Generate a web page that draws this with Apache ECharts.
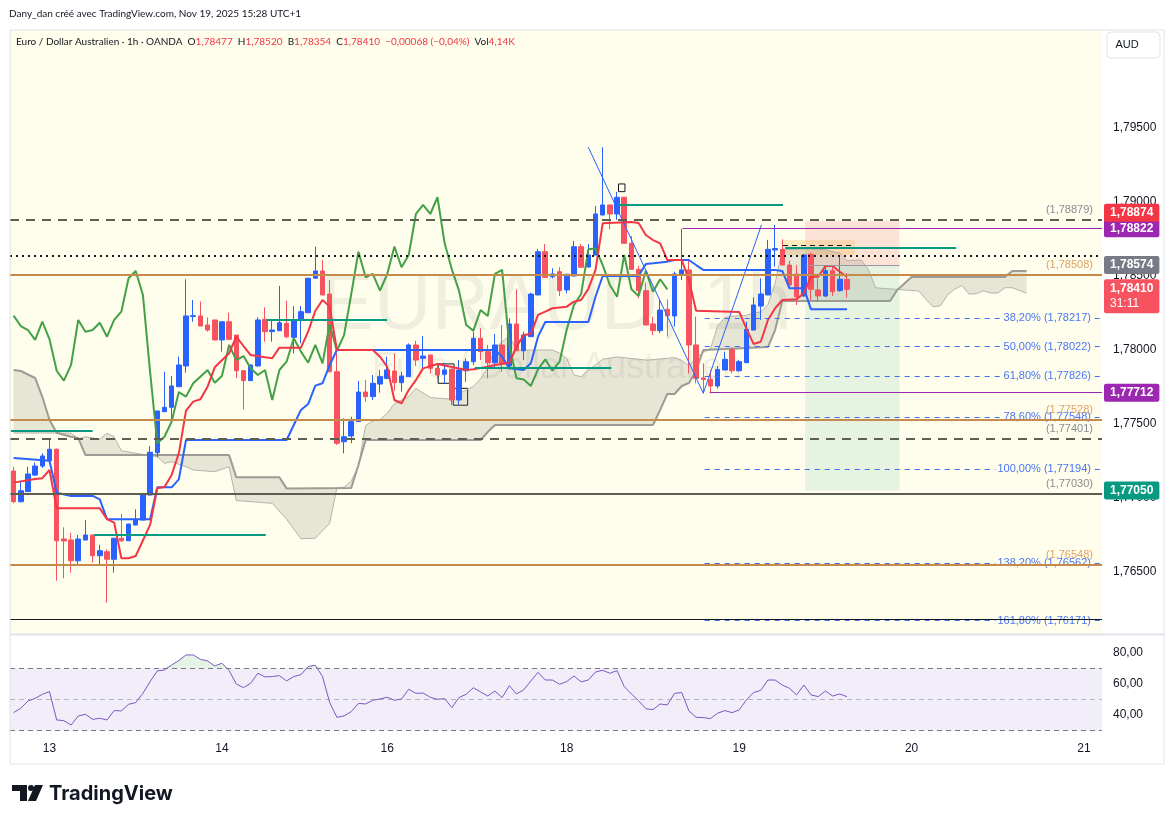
<!DOCTYPE html>
<html><head><meta charset="utf-8">
<script src="https://cdn.jsdelivr.net/npm/echarts@6/dist/echarts.min.js"></script>
<style>html,body{margin:0;padding:0;background:#fff;}#c{width:1175px;height:824px;}</style>
</head><body><div id="c"></div>
<script>
// ---------- DATA ----------
const opens = [
1.77182,1.76975,1.77043,1.77155,1.77216,1.77252,1.77329,1.76723,1.76716,1.76576,
1.76716,1.76750,1.76610,1.76637,1.76586,1.76728,1.76711,1.76817,1.76851,1.77020,
1.77306,1.77583,1.77613,1.77752,1.77892,1.78226,1.78230,1.78169,1.78203,1.78068,
1.78191,1.78101,1.77860,1.77793,1.77892,1.78207,1.78124,1.78130,1.78180,1.78086,
1.78203,1.78252,1.78485,1.78534,1.78378,1.77853,1.77380,1.77419,1.77516,1.77716,
1.77685,1.77770,1.77808,1.77858,1.77779,1.77820,1.78034,1.77944,1.77966,1.77876,
1.77836,1.77870,1.77662,1.77860,1.77921,1.78079,1.77989,1.77914,1.78034,1.77892,
1.78176,1.77995,1.78090,1.78372,1.78664,1.78495,1.78529,1.78406,1.78500,1.78698,
1.78561,1.78642,1.78912,1.78980,1.78919,1.79032,1.78721,1.78545,1.78401,1.78176,
1.78131,1.78275,1.78230,1.78507,1.78541,1.78034,1.77811,1.77802,1.77757,1.77865,
1.78005,1.77860,1.77914,1.78135,1.78297,1.78372,1.78676,1.78680,1.78574,1.78514,
1.78365,1.78647,1.78406,1.78365,1.78536,1.78401,1.78477];
const closes = [
1.76975,1.77049,1.77162,1.77216,1.77284,1.77329,1.76711,1.76710,1.76576,1.76723,
1.76750,1.76610,1.76644,1.76586,1.76728,1.76711,1.76824,1.76851,1.77027,1.77309,
1.77588,1.77613,1.77757,1.77899,1.78230,1.78232,1.78162,1.78135,1.78068,1.78191,
1.78072,1.77860,1.77793,1.77899,1.78203,1.78124,1.78135,1.78184,1.78090,1.78203,
1.78259,1.78485,1.78534,1.78372,1.77853,1.77370,1.77414,1.77516,1.77716,1.77685,
1.77775,1.77820,1.77865,1.77779,1.77824,1.78034,1.77932,1.77959,1.77876,1.77831,
1.77865,1.77662,1.77865,1.77921,1.78079,1.77989,1.77914,1.78034,1.77910,1.78176,
1.77995,1.78101,1.78378,1.78664,1.78491,1.78514,1.78401,1.78512,1.78698,1.78559,
1.78642,1.78919,1.78980,1.78919,1.79032,1.78721,1.78545,1.78401,1.78169,1.78131,
1.78270,1.78230,1.78514,1.78541,1.78034,1.77809,1.77801,1.77757,1.77869,1.77937,
1.77860,1.77921,1.78140,1.78304,1.78378,1.78680,1.78686,1.78574,1.78439,1.78360,
1.78642,1.78410,1.78365,1.78536,1.78394,1.78478,1.78410];
const lows = [
1.76964,1.76970,1.77040,1.77149,1.77203,1.77250,1.76441,1.76457,1.76496,1.76541,
1.76716,1.76563,1.76554,1.76292,1.76496,1.76703,1.76709,1.76815,1.76849,1.77018,
1.77275,1.77581,1.77527,1.77750,1.77847,1.78191,1.78160,1.78124,1.78066,1.77989,
1.78070,1.77809,1.77599,1.77791,1.77890,1.78056,1.78056,1.78128,1.78079,1.77977,
1.78045,1.78250,1.78483,1.78370,1.77851,1.77358,1.77302,1.77370,1.77514,1.77651,
1.77662,1.77712,1.77802,1.77725,1.77718,1.77818,1.77892,1.77876,1.77842,1.77802,
1.77775,1.77628,1.77628,1.77786,1.77899,1.77932,1.77809,1.77883,1.77853,1.77865,
1.77993,1.77932,1.78088,1.78370,1.78489,1.78484,1.78365,1.78383,1.78498,1.78557,
1.78557,1.78640,1.78910,1.78816,1.78879,1.78719,1.78543,1.78349,1.78167,1.78101,
1.78113,1.78090,1.78158,1.78473,1.77842,1.77775,1.77707,1.77707,1.77741,1.77863,
1.77842,1.77853,1.77912,1.78133,1.78203,1.78370,1.78563,1.78572,1.78428,1.78304,
1.78360,1.78338,1.78327,1.78356,1.78365,1.78394,1.78354];
const highs = [
1.77211,1.77117,1.77211,1.77239,1.77302,1.77403,1.77335,1.76802,1.76765,1.76750,
1.76851,1.76752,1.76683,1.76653,1.76730,1.76892,1.76826,1.76924,1.77029,1.77351,
1.77590,1.77853,1.77824,1.77955,1.78478,1.78338,1.78327,1.78221,1.78205,1.78193,
1.78252,1.78103,1.77862,1.77901,1.78221,1.78288,1.78203,1.78433,1.78333,1.78297,
1.78297,1.78487,1.78698,1.78608,1.78473,1.77980,1.77538,1.77549,1.77791,1.77797,
1.77831,1.77865,1.77955,1.77978,1.77853,1.78045,1.78063,1.78095,1.77968,1.77910,
1.77910,1.77876,1.77932,1.77943,1.78124,1.78147,1.78034,1.78108,1.78169,1.78214,
1.78410,1.78124,1.78387,1.78682,1.78716,1.78552,1.78559,1.78514,1.78737,1.78716,
1.78716,1.78973,1.79370,1.78982,1.79068,1.79034,1.78770,1.78568,1.78455,1.78225,
1.78338,1.78343,1.78529,1.78818,1.78613,1.78225,1.77910,1.77865,1.77892,1.77989,
1.78018,1.77932,1.78191,1.78356,1.78484,1.78743,1.78845,1.78748,1.78603,1.78574,
1.78649,1.78657,1.78484,1.78563,1.78563,1.78642,1.78520];
const rsi = [
41.5,44.3,48.9,50.6,53.2,54.9,36.8,36.4,33.6,39.4,
40.4,37.2,37.9,36.8,42.8,42.6,46.8,47.9,53.8,61.3,
68.1,68.7,71.9,74.7,78.3,78.3,75.5,74.5,71.3,73.0,
68.3,59.8,57.4,60.2,66.6,64.3,64.5,65.1,61.7,64.5,
65.7,70.9,71.7,64.5,47.9,38.5,39.4,42.1,47.4,47.0,
49.4,50.2,51.3,49.4,50.2,56.4,53.8,54.0,51.3,50.0,
50.4,44.7,51.1,53.2,57.4,54.7,52.1,55.3,51.1,58.7,
53.4,56.0,61.7,67.2,62.3,62.3,59.6,61.3,64.9,61.1,
62.3,67.4,68.5,66.6,68.3,58.1,53.4,49.1,44.0,43.4,
47.0,46.4,53.8,54.3,42.6,38.5,38.3,37.7,41.1,42.8,
41.5,43.2,49.6,54.3,55.7,62.3,62.3,59.1,57.0,52.8,
59.1,52.8,51.7,55.3,52.1,53.4,51.7];
const tenkan = [[0,1.77104],[3,1.77129],[4,1.77134],[5,1.77189],[6,1.76930],[12,1.76930],[13,1.76857],[14,1.76834],[15,1.76593],[16,1.76593],[17,1.76608],[19,1.76818],[20,1.77066],[21,1.77075],[22,1.77156],[23,1.77302],[24,1.77590],[25,1.77651],[26,1.77667],[27,1.77752],[28,1.77883],[30,1.77978],[31,1.78090],[32,1.78027],[33,1.77966],[35,1.77951],[36,1.77944],[37,1.78016],[40,1.78016],[41,1.78124],[42,1.78265],[43,1.78338],[44,1.78293],[45,1.78000],[50,1.78000],[51,1.77955],[52,1.77887],[53,1.77662],[54,1.77640],[55,1.77730],[56,1.77797],[57,1.77876],[59,1.77905],[63,1.77865],[64,1.77870],[66,1.77887],[67,1.77899],[69,1.77914],[70,1.78022],[71,1.78101],[72,1.78108],[73,1.78237],[74,1.78259],[75,1.78282],[77,1.78293],[78,1.78327],[79,1.78338],[80,1.78413],[81,1.78541],[82,1.78856],[86,1.78865],[87,1.78858],[88,1.78777],[89,1.78743],[90,1.78721],[91,1.78608],[93,1.78608],[94,1.78473],[95,1.78265],[101,1.78257],[102,1.78146],[103,1.78041],[104,1.78056],[105,1.78203],[106,1.78282],[107,1.78338],[109,1.78343],[110,1.78383],[111,1.78495],[112,1.78495],[113,1.78568],[114,1.78568],[115,1.78529],[116,1.78495]];
const kijun = [[0,1.77270],[5,1.77252],[6,1.77036],[8,1.77014],[11,1.77014],[12,1.76991],[13,1.76857],[19,1.76857],[20,1.77072],[22,1.77072],[23,1.77126],[24,1.77392],[38,1.77392],[39,1.77493],[40,1.77595],[41,1.77635],[42,1.77759],[43,1.77775],[44,1.77899],[45,1.78000],[67,1.78000],[68,1.77955],[69,1.77876],[71,1.77865],[72,1.77910],[73,1.78090],[74,1.78189],[80,1.78189],[81,1.78360],[82,1.78500],[87,1.78500],[88,1.78581],[89,1.78586],[91,1.78597],[92,1.78608],[94,1.78608],[95,1.78574],[96,1.78541],[106,1.78541],[107,1.78534],[108,1.78417],[110,1.78417],[111,1.78275],[116,1.78275]];
const spanA = [[0,1.77439],[8,1.77439],[9,1.77399],[10,1.77414],[12,1.77397],[13,1.77437],[14,1.77414],[15,1.77320],[17,1.77302],[20,1.77279],[21,1.77234],[22,1.77245],[24,1.77211],[25,1.77189],[28,1.77178],[30,1.77211],[31,1.76983],[36,1.76964],[38,1.76857],[40,1.76725],[42,1.76728],[44,1.76829],[45,1.77069],[46,1.77073],[47,1.77115],[48,1.77214],[49,1.77490],[50,1.77521],[51,1.77529],[52,1.77572],[53,1.77637],[54,1.77662],[55,1.77685],[56,1.77741],[57,1.77710],[58,1.77679],[60,1.77671],[61,1.77668],[62,1.77704],[64,1.77754],[65,1.77805],[66,1.77879],[67,1.78012],[68,1.78056],[69,1.78095],[70,1.78000],[75,1.78000],[76,1.77978],[77,1.77944],[78,1.77831],[79,1.77820],[80,1.77865],[81,1.77899],[82,1.77938],[84,1.77953],[88,1.77932],[89,1.77934],[91,1.77944],[92,1.77949],[93,1.77930],[94,1.77895],[95,1.77947],[96,1.77983],[97,1.78009],[98,1.78163],[99,1.78218],[100,1.78228],[102,1.78234],[103,1.78251],[104,1.78257],[105,1.78307],[106,1.78451],[107,1.78678],[111,1.78683],[112,1.78679],[113,1.78679],[114,1.78664],[115,1.78656],[116,1.78603],[118,1.78608],[119,1.78541],[120,1.78420],[126,1.78399],[127,1.78343],[128,1.78291],[129,1.78299],[130,1.78372],[131,1.78411],[132,1.78436],[133,1.78378],[134,1.78380],[135,1.78400],[136,1.78385],[137,1.78385],[138,1.78421],[139,1.78421],[140,1.78402],[141,1.78385]];
const spanB = [[0,1.77865],[1,1.77858],[3,1.77811],[4,1.77684],[5,1.77527],[6,1.77441],[8,1.77414],[9,1.77405],[10,1.77290],[30,1.77290],[31,1.77140],[37,1.77140],[38,1.77065],[47,1.77068],[48,1.77223],[49,1.77392],[65,1.77392],[66,1.77446],[67,1.77493],[89,1.77493],[90,1.77595],[91,1.77703],[92,1.77703],[93,1.77757],[94,1.77777],[95,1.77858],[96,1.78000],[105,1.78020],[106,1.78135],[107,1.78331],[122,1.78331],[123,1.78406],[125,1.78493],[138,1.78493],[139,1.78534],[141,1.78534]];
const dayIndex = [5,29,52,77,101,125,149];
const dayLabel = ['13','14','16','18','19','20','21'];
const priceTicks = [1.765,1.770,1.775,1.780,1.785,1.790,1.795];
const rsiTicks = [40,60,80];
const dashedLevels = [1.78879,1.77401];
const orangeLevels = [1.78508,1.77528,1.76548];
const darkLevels = [1.77030];
const blackLevels = [1.76180];
const dottedLevels = [1.78635];
const fibStart = 96.2;
const fibNames = ['38,20%','50,00%','61,80%','78,60%','100,00%','138,20%','161,80%'];
const fibValues = [1.78217,1.78022,1.77826,1.77548,1.77194,1.76562,1.76171];
const tealSegments = [[-0.4,11.0,1.77454],[11.2,35.1,1.76751],[35.2,52.0,1.78203],[64.2,83.2,1.77880],[84.2,107.1,1.78984],[107.4,131.2,1.78688]];
const purpleStarts = [93.1,96.9];
const purpleValues = [1.78822,1.77712];
const zigzag = [[80.0,1.79370],[96.0,1.77708],[104.1,1.78845]];
const posX = [110.2,123.3];
const posPrices = [1.78874,1.78574,1.77050]; // stop, entry, target
const orangeBox = [[107.1,1.78743],[117.1,1.78642]];
const orangeBoxMid = 1.78710;
const smallBoxes = [[[59.1,1.77906],[61.3,1.77775]],[[61.2,1.77741],[63.2,1.77627]],[[84.2,1.79122],[85.1,1.79070]]];

// ---------- CHART ----------
const N = 152;
const cats = Array.from({length:N},(_,i)=>String(i));
const FONT = 'Liberation Sans';
const BG = '#fffdeb';
const fmt = (v,d)=>v.toFixed(d).replace('.',',');
const candleData = opens.map((o,i)=>[o,closes[i],lows[i],highs[i]]);
const chikou = closes.slice(25).map((c,j)=>[j,c]);
const last = closes.length-1;
const chg = closes[last]-closes[last-1];
const sgn = chg<0?'−':'+';
const chgTxt = sgn+fmt(Math.abs(chg),5)+' ('+sgn+fmt(Math.abs(chg)/closes[last-1]*100,2)+'%)';
const NOLINE = {color:'rgba(0,0,0,0)',width:0};

const levelLabel = (txt,color)=>({show:true,position:'insideEndTop',formatter:txt,color:color,fontSize:11,fontFamily:FONT,distance:[9,4]});
const levelData = [];
dashedLevels.forEach(v=>levelData.push({yAxis:v,lineStyle:{color:'#5d5d52',width:2,type:[9,7]},label:levelLabel('('+fmt(v,5)+')','#8a8c94')}));
orangeLevels.forEach(v=>levelData.push({yAxis:v,lineStyle:{color:'#c68a4b',width:2,type:'solid'},label:levelLabel('('+fmt(v,5)+')','#dca36a')}));
darkLevels.forEach(v=>levelData.push({yAxis:v,lineStyle:{color:'#5d5d52',width:2,type:'solid'},label:levelLabel('('+fmt(v,5)+')','#8a8c94')}));
blackLevels.forEach(v=>levelData.push({yAxis:v,lineStyle:{color:'#131722',width:1,type:'solid'},label:{show:false}}));
dottedLevels.forEach(v=>levelData.push({yAxis:v,lineStyle:{color:'#131722',width:2,type:[2,4]},label:{show:false}}));
tealSegments.forEach(s=>levelData.push([{coord:[s[0],s[2]],lineStyle:{color:'#089981',width:2,type:'solid'},label:{show:false}},{coord:[s[1],s[2]]}]));
levelData.push([{coord:[posX[0],posPrices[1]],lineStyle:{color:'#9598a1',width:1,type:'solid'},label:{show:false}},{coord:[posX[1],posPrices[1]]}]);
levelData.push([{coord:[orangeBox[0][0],orangeBoxMid],lineStyle:{color:'#131722',width:1,type:[5,4]},label:{show:false}},{coord:[orangeBox[1][0],orangeBoxMid]}]);

const fibData = fibValues.map((v,k)=>[{coord:[fibStart,v],lineStyle:{color:'#3d6df5',width:1,type:[5,5]},
  label:{show:true,position:'insideEnd',formatter:fibNames[k]+' ('+fmt(v,5)+')',color:'#4a76f5',fontSize:11,fontFamily:FONT,distance:[9,0],backgroundColor:BG,padding:[0,2]}},{coord:[N-0.5,v]}]);

const boxLabel = (txt,bg,dy)=>({show:true,position:'end',distance:2,formatter:txt,color:'#fff',fontWeight:'bold',fontSize:12,fontFamily:FONT,backgroundColor:bg,padding:[2,6],lineHeight:14,borderRadius:2,offset:[0,dy],opacity:1});
const tagData = [];
purpleValues.forEach((v,k)=>tagData.push([{coord:[purpleStarts[k],v],lineStyle:{color:'#9c27b0',width:1,type:'solid'},label:boxLabel(fmt(v,5),'#9c27b0',0)},{coord:[N-0.5,v]}]));
tagData.push({yAxis:posPrices[0],lineStyle:NOLINE,label:boxLabel(fmt(posPrices[0],5),'#f23645',-8)});
tagData.push({yAxis:posPrices[1],lineStyle:NOLINE,label:boxLabel(fmt(posPrices[1],5),'#787b86',0)});
tagData.push({yAxis:posPrices[2],lineStyle:NOLINE,label:boxLabel(fmt(posPrices[2],5),'#089981',0)});
tagData.push({yAxis:closes[last],lineStyle:NOLINE,label:{show:true,position:'end',distance:2,formatter:'{a|'+fmt(closes[last],5)+'}\n{b|31:11}',
  backgroundColor:'#f7525f',padding:[2,6],borderRadius:2,offset:[0,7],opacity:1,
  rich:{a:{color:'#fff',fontWeight:'bold',fontSize:12,fontFamily:FONT,lineHeight:15},b:{color:'#fff',fontSize:12,fontFamily:FONT,lineHeight:15}}}});

const areaData = [
  [{coord:[posX[0],posPrices[0]],itemStyle:{color:'rgba(242,54,69,0.13)'}},{coord:[posX[1],posPrices[1]]}],
  [{coord:[posX[0],posPrices[1]],itemStyle:{color:'rgba(8,153,129,0.10)'}},{coord:[posX[1],posPrices[2]]}],
  [{coord:orangeBox[0],itemStyle:{color:'rgba(255,152,0,0.18)'}},{coord:orangeBox[1]}]
];
smallBoxes.forEach(b=>areaData.push([{coord:b[0],itemStyle:{color:'rgba(0,0,0,0)',borderColor:'#131722',borderWidth:1}},{coord:b[1]}]));

const chart = echarts.init(document.getElementById('c'));
chart.setOption({
  animation:false,
  backgroundColor:'#ffffff',
  textStyle:{fontFamily:FONT},
  grid:[
    {left:10,top:30,width:1092,height:604,show:true,backgroundColor:BG,borderWidth:0},
    {left:10,top:636,width:1092,height:99,show:false}
  ],
  xAxis:[
    {type:'category',gridIndex:0,data:cats,show:false},
    {type:'value',gridIndex:0,min:-0.5,max:N-0.5,show:false},
    {type:'category',gridIndex:1,data:cats,axisLine:{show:false},axisTick:{show:false},
      axisLabel:{interval:(i)=>dayIndex.indexOf(i)>=0,formatter:(v,i)=>{const k=dayIndex.indexOf(i);return k>=0?dayLabel[k]:'';},color:'#131722',fontSize:12,fontFamily:FONT,margin:8},splitLine:{show:false}}
  ],
  yAxis:[
    {type:'value',gridIndex:0,position:'right',scale:true,min:1.760811,max:1.801622,
      axisLine:{show:false},axisTick:{show:false},splitLine:{show:false},
      axisLabel:{customValues:priceTicks,formatter:v=>fmt(v,5),color:'#131722',fontSize:12,fontFamily:FONT,margin:11}},
    {type:'value',gridIndex:1,position:'right',min:27.22,max:90.38,
      axisLine:{show:false},axisTick:{show:false},splitLine:{show:false},
      axisLabel:{customValues:rsiTicks,formatter:v=>fmt(v,2),color:'#131722',fontSize:12,fontFamily:FONT,margin:11}}
  ],
  series:[
    {type:'custom',name:'cloud',xAxisIndex:1,yAxisIndex:0,z:2,silent:true,data:[[0,1.78]],
      renderItem:(params,api)=>{
        const pts = spanA.map(p=>api.coord(p)).concat(spanB.slice().reverse().map(p=>api.coord(p)));
        return {type:'polygon',shape:{points:pts},style:{fill:'rgba(120,120,110,0.18)'}};
      }},
    {type:'line',name:'spanA',xAxisIndex:1,yAxisIndex:0,z:2,data:spanA,showSymbol:false,silent:true,lineStyle:{color:'#b4b4ae',width:1}},
    {type:'line',name:'spanB',xAxisIndex:1,yAxisIndex:0,z:2,data:spanB,showSymbol:false,silent:true,lineStyle:{color:'#9c9c96',width:2}},
    {type:'line',name:'zones',xAxisIndex:1,yAxisIndex:0,z:2,data:[],silent:true,
      markArea:{silent:true,z:1,data:areaData}},
    {type:'candlestick',name:'EURAUD',xAxisIndex:0,yAxisIndex:0,z:3,data:candleData,barWidth:'70%',
      itemStyle:{color:'#2962ff',color0:'#f7525f',borderColor:'#2962ff',borderColor0:'#f7525f',borderWidth:1}},
    {type:'line',name:'chikou',xAxisIndex:1,yAxisIndex:0,z:4,data:chikou,showSymbol:false,silent:true,lineStyle:{color:'#43a047',width:2}},
    {type:'line',name:'kijun',xAxisIndex:1,yAxisIndex:0,z:4,data:kijun,showSymbol:false,silent:true,lineStyle:{color:'#2962ff',width:2}},
    {type:'line',name:'tenkan',xAxisIndex:1,yAxisIndex:0,z:4,data:tenkan,showSymbol:false,silent:true,lineStyle:{color:'#f23645',width:2}},
    {type:'line',name:'zigzag',xAxisIndex:1,yAxisIndex:0,z:5,data:zigzag,showSymbol:false,silent:true,lineStyle:{color:'#2962ff',width:1}},
    {type:'line',name:'fib',xAxisIndex:1,yAxisIndex:0,z:5,data:[],silent:true,
      markLine:{silent:true,z:5,precision:6,symbol:['none','none'],animation:false,data:fibData}},
    {type:'line',name:'levels',xAxisIndex:1,yAxisIndex:0,z:6,data:[],silent:true,
      markLine:{silent:true,z:6,precision:6,symbol:['none','none'],animation:false,data:levelData}},
    {type:'line',name:'tags',xAxisIndex:1,yAxisIndex:0,z:7,data:[],silent:true,
      markLine:{silent:true,z:7,precision:6,symbol:['none','none'],animation:false,data:tagData}},
    {type:'line',name:'RSI',xAxisIndex:2,yAxisIndex:1,z:4,data:rsi,showSymbol:false,silent:true,lineStyle:{color:'#7e57c2',width:1},
      markArea:{silent:true,itemStyle:{color:'rgba(126,87,194,0.1)'},data:[[{yAxis:70},{yAxis:30}]]},
      markLine:{silent:true,symbol:['none','none'],label:{show:false},data:[
        {yAxis:70,lineStyle:{color:'#787b86',width:1,type:[5,4]}},
        {yAxis:50,lineStyle:{color:'rgba(120,123,134,0.5)',width:1,type:[5,4]}},
        {yAxis:30,lineStyle:{color:'#787b86',width:1,type:[5,4]}}]}},
    {type:'line',name:'obBase',xAxisIndex:2,yAxisIndex:1,stack:'ob',z:3,data:rsi.map(()=>70),showSymbol:false,silent:true,lineStyle:{opacity:0}},
    {type:'line',name:'obFill',xAxisIndex:2,yAxisIndex:1,stack:'ob',z:3,data:rsi.map(v=>Math.max(0,v-70)),showSymbol:false,silent:true,lineStyle:{opacity:0},
      areaStyle:{color:'rgba(76,175,80,0.22)'}}
  ],
  graphic:[
    {type:'text',x:556,y:307,z:1,silent:true,style:{text:'EURAUD, 1h',fontSize:80,fontFamily:FONT,fill:'rgba(0,0,0,0.06)',align:'center',verticalAlign:'middle'}},
    {type:'text',x:557,y:368,z:1,silent:true,style:{text:'Euro / Dollar Australien',fontSize:36,fontFamily:FONT,fill:'rgba(0,0,0,0.06)',align:'center',verticalAlign:'middle'}},
    {type:'text',x:9,y:14,z:20,silent:true,style:{text:'Dany_dan créé avec TradingView.com, Nov 19, 2025 15:28 UTC+1',fontSize:10,fontFamily:'Lato',fill:'#131722',verticalAlign:'middle'}},
    {type:'text',x:16,y:42,z:20,silent:true,style:{
      text:'Euro / Dollar Australien · 1h · OANDA  O{r|'+fmt(opens[last],5)+'}  H{r|'+fmt(highs[last],5)+'}  B{r|'+fmt(lows[last],5)+'}  C{r|'+fmt(closes[last],5)+'}  {r|'+chgTxt+'}  Vol{r|4,14K}',
      fontSize:10,fontFamily:'Lato',fill:'#131722',verticalAlign:'middle',
      rich:{r:{fill:'#f23645',fontSize:10,fontFamily:'Lato'}}}},
    {type:'rect',z:20,silent:true,shape:{x:1107,y:32,width:53,height:26,r:4},style:{fill:'#fff',stroke:'#e0e3eb',lineWidth:1}},
    {type:'text',x:1127,y:45,z:21,silent:true,style:{text:'AUD',fontSize:11,fontFamily:FONT,fill:'#131722',align:'center',verticalAlign:'middle'}},
    {type:'rect',z:20,silent:true,shape:{x:10,y:30,width:1154,height:734},style:{fill:'none',stroke:'#e0e3eb',lineWidth:1}},
    {type:'line',z:20,silent:true,shape:{x1:10,y1:634.5,x2:1164,y2:634.5},style:{stroke:'#e0e3eb',lineWidth:2}},
    {type:'rect',z:20,silent:true,shape:{x:12,y:785,width:15,height:6},style:{fill:'#131722'}},
    {type:'rect',z:20,silent:true,shape:{x:20,y:785,width:7,height:16},style:{fill:'#131722'}},
    {type:'circle',z:20,silent:true,shape:{cx:31,cy:788,r:3},style:{fill:'#131722'}},
    {type:'polygon',z:20,silent:true,shape:{points:[[35,785],[43,785],[36,801],[28,801]]},style:{fill:'#131722'}},
    {type:'text',x:49,y:794,z:20,silent:true,style:{text:'TradingView',fontSize:20,fontWeight:'bold',fontFamily:'Inter',fill:'#131722',verticalAlign:'middle'}}
  ]
});
</script></body></html>
